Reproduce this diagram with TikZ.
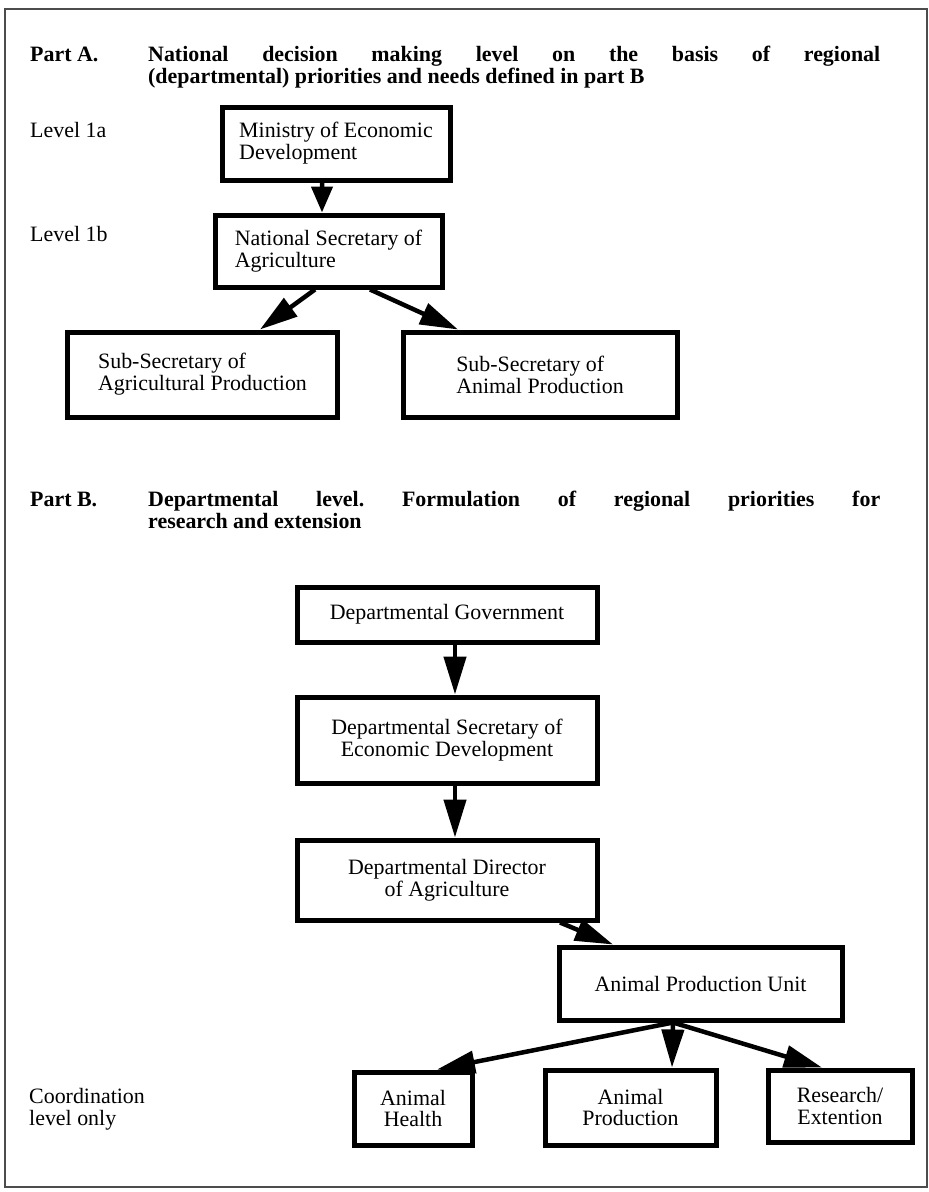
\documentclass[tikz,border=0pt]{standalone}
\usepackage{fontspec}
\setmainfont{Liberation Serif}
\usetikzlibrary{arrows.meta}
\def\orgfont{\fontsize{22}{22}\selectfont}

\begin{document}
\begin{tikzpicture}[x=1bp,y=-1bp,
  orgbox/.style={draw,line width=5bp,inner sep=0pt,font=\orgfont},
  toarrow/.style={line width=4.5bp,-{Triangle[length=38bp,width=22bp]}},
  lbl/.style={inner sep=0pt,font=\orgfont},
  hdr/.style={inner sep=0pt,font=\orgfont\bfseries\frenchspacing}]

  \useasboundingbox (0,0) rectangle (929,1192);
  \draw[black!70,line width=2bp] (5,9) rectangle (927,1187);

  %% Part A: national level
  \node[hdr,anchor=base west] (parta) at (30,61) {Part A.};
  \node[hdr,anchor=north west,text width=732bp,align=justify] (hdra) at (148,46)
  {National decision making level on the basis of regional\linebreak
    (departmental) priorities and needs defined in part B};

  \node[lbl,anchor=base west] (lvla) at (30,137) {Level 1a};
  \node[lbl,anchor=base west] (lvlb) at (30,241) {Level 1b};

  \node[orgbox,align=left,minimum width=228bp,minimum height=73bp]
  (ministry) at (336,143.5) {Ministry of Economic\\Development};
  \node[orgbox,align=left,minimum width=227bp,minimum height=72bp]
  (natsec) at (328.5,251) {National Secretary of\\Agriculture};
  \node[orgbox,align=left,minimum width=269bp,minimum height=85bp]
  (subagri) at (202.5,374.5) {Sub-Secretary of\\Agricultural Production};
  \node[orgbox,align=left,minimum width=274bp,minimum height=85bp]
  (subanim) at (540,374.5) {Sub-Secretary of\\Animal Production};

  \draw[toarrow,-{Triangle[length=26bp,width=21bp]}]
  ([xshift=-14bp]ministry.south) -- ([xshift=-6.5bp]natsec.north);
  \draw[toarrow] ([xshift=-13.5bp]natsec.south) -- ([xshift=57.5bp]subagri.north);
  \draw[toarrow] ([xshift=41.5bp]natsec.south) -- ([xshift=-82bp]subanim.north);

  %% Part B: departmental level
  \node[hdr,anchor=base west] (partb) at (30,506) {Part B.};
  \node[hdr,anchor=north west,text width=732bp,align=justify] (hdrb) at (148,491)
  {Departmental level. Formulation of regional priorities for\linebreak
    research and extension};

  \node[orgbox,align=center,minimum width=300bp,minimum height=55bp]
  (depgov) at (447,614.5) {Departmental Government};
  \node[orgbox,align=center,minimum width=300bp,minimum height=86bp]
  (depsec) at (447,740) {Departmental Secretary of\\Economic Development};
  \node[orgbox,align=center,minimum width=300bp,minimum height=80bp]
  (depdir) at (447,880) {Departmental Director\\of Agriculture};
  \node[orgbox,align=center,minimum width=283bp,minimum height=73bp]
  (apu) at (700.5,983.5) {Animal Production Unit};

  \node[orgbox,align=center,minimum width=118bp,minimum height=73bp]
  (health) at (413,1108.5) {Animal\\Health};
  \node[orgbox,align=center,minimum width=171bp,minimum height=75bp]
  (aniprod) at (630.5,1107.5) {Animal\\Production};
  \node[orgbox,align=center,minimum width=144bp,minimum height=72bp]
  (research) at (840,1106) {Research/\\Extention};

  \node[lbl,anchor=north west,align=left] (coordlvl) at (29,1088)
  {Coordination\\level only};

  \draw[toarrow] ([xshift=8bp]depgov.south) -- ([xshift=8bp]depsec.north);
  \draw[toarrow] ([xshift=8bp]depsec.south) -- ([xshift=8bp]depdir.north);
  \draw[toarrow] ([xshift=113bp]depdir.south) -- ([xshift=-87.5bp]apu.north);
  \foreach \dst/\dx in {health/24,aniprod/41.5,research/-18}
    \draw[toarrow] ([xshift=-27.5bp]apu.south) -- ([xshift=\dx bp]\dst.north);

\end{tikzpicture}
\end{document}
